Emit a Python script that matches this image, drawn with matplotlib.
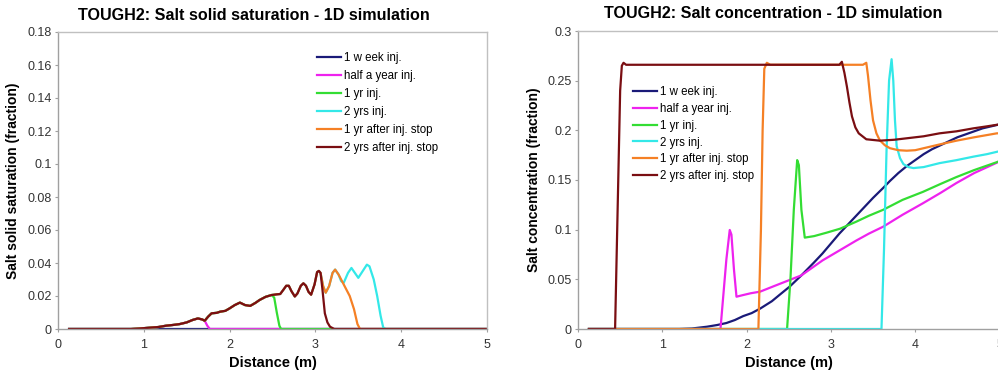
import matplotlib
matplotlib.use("Agg")
import matplotlib.pyplot as plt

plt.rcParams['font.family'] = ['Liberation Sans', 'DejaVu Sans']

# ---------------- data ----------------
labels = ["1 w eek inj.", "half a year inj.", "1 yr inj.", "2 yrs inj.",
          "1 yr after inj. stop", "2 yrs after inj. stop"]
colors = ["#1a1a78", "#ee22ee", "#33dd33", "#33e8e8", "#f58025", "#7a0e12"]

# Left chart: salt solid saturation; common precipitation hump
hump_x = [0.13, 0.85, 0.95, 1.07, 1.17, 1.26, 1.35, 1.42, 1.50, 1.57, 1.63, 1.68,
          1.71, 1.75, 1.79, 1.85, 1.89, 1.95, 2.00, 2.06, 2.12, 2.18, 2.24, 2.30,
          2.35, 2.42, 2.49, 2.55, 2.59, 2.63, 2.66, 2.69, 2.72, 2.76, 2.79, 2.83,
          2.86, 2.89, 2.92, 2.95, 2.99, 3.02, 3.04, 3.06]
hump_y = [0.0, 0.0, 0.0003, 0.0008, 0.0012, 0.0020, 0.0025, 0.0030, 0.0040, 0.0055,
          0.0064, 0.0058, 0.0050, 0.0075, 0.0095, 0.0098, 0.0105, 0.0110, 0.0125,
          0.0145, 0.0160, 0.0145, 0.0140, 0.0158, 0.0176, 0.0195, 0.0206, 0.0210,
          0.0212, 0.0240, 0.0262, 0.0262, 0.0230, 0.0197, 0.0215, 0.0262, 0.0277,
          0.0262, 0.0225, 0.0208, 0.0270, 0.0345, 0.0352, 0.0340]

sat_week_x = [0.13, 1.0, 1.75, 5.0]
sat_week_y = [0.0, 0.0, 0.0, 0.0]
sat_half_x = hump_x[:12] + [1.71, 1.74, 1.77, 5.0]
sat_half_y = hump_y[:12] + [0.005, 0.002, 0.0, 0.0]
sat_1yr_x = hump_x[:27] + [2.52, 2.55, 2.58, 2.60, 5.0]
sat_1yr_y = hump_y[:27] + [0.019, 0.010, 0.002, 0.0, 0.0]
sat_2yr_x = hump_x + [3.09, 3.12, 3.16, 3.20, 3.23, 3.27, 3.30, 3.33, 3.38, 3.42,
                      3.46, 3.50, 3.55, 3.60, 3.63, 3.68, 3.72, 3.76, 3.79, 3.82, 5.0]
sat_2yr_y = hump_y + [0.026, 0.022, 0.026, 0.034, 0.036, 0.033, 0.029, 0.028, 0.034,
                      0.037, 0.034, 0.031, 0.035, 0.039, 0.038, 0.030, 0.020, 0.008,
                      0.001, 0.0, 0.0]
sat_1after_x = hump_x + [3.09, 3.12, 3.16, 3.20, 3.23, 3.27, 3.33, 3.40, 3.45, 3.49,
                         3.52, 5.0]
sat_1after_y = hump_y + [0.026, 0.022, 0.026, 0.034, 0.036, 0.033, 0.027, 0.020,
                         0.012, 0.003, 0.0, 0.0]
sat_2after_x = hump_x + [3.08, 3.11, 3.14, 3.17, 3.22, 5.0]
sat_2after_y = hump_y + [0.025, 0.0095, 0.004, 0.0014, 0.0, 0.0]

# Right chart: salt concentration
con_week_x = [0.13, 1.20, 1.35, 1.53, 1.65, 1.76, 1.86, 1.96, 2.06, 2.16, 2.30, 2.40,
              2.51, 2.65, 2.80, 2.90, 3.00, 3.10, 3.20, 3.30, 3.40, 3.50, 3.62, 3.70,
              3.80, 3.90, 4.00, 4.10, 4.20, 4.30, 4.40, 4.50, 4.60, 4.70, 4.80, 4.90, 5.0]
con_week_y = [0.0, 0.0, 0.0005, 0.0023, 0.004, 0.006, 0.009, 0.013, 0.016, 0.0205,
              0.028, 0.035, 0.0426, 0.054, 0.067, 0.076, 0.086, 0.096, 0.105, 0.114,
              0.123, 0.132, 0.142, 0.149, 0.157, 0.164, 0.170, 0.176, 0.181, 0.185,
              0.189, 0.193, 0.196, 0.199, 0.202, 0.204, 0.206]
con_half_x = [0.13, 1.69, 1.72, 1.76, 1.80, 1.82, 1.85, 1.88, 1.95, 2.05, 2.16, 2.32,
              2.50, 2.65, 2.90, 3.11, 3.30, 3.45, 3.62, 3.85, 4.09, 4.30, 4.49, 4.70,
              4.97, 5.0]
con_half_y = [0.0, 0.0, 0.03, 0.07, 0.0997, 0.095, 0.06, 0.0325, 0.034, 0.036, 0.0376,
              0.043, 0.049, 0.054, 0.069, 0.0795, 0.089, 0.096, 0.103, 0.115, 0.1265,
              0.137, 0.147, 0.157, 0.1675, 0.169]
con_1yr_x = [0.13, 2.48, 2.52, 2.56, 2.60, 2.62, 2.65, 2.69, 2.80, 2.95, 3.11, 3.30,
             3.45, 3.62, 3.85, 4.09, 4.30, 4.49, 4.70, 4.97, 5.0]
con_1yr_y = [0.0, 0.0, 0.05, 0.12, 0.170, 0.165, 0.12, 0.092, 0.0935, 0.097, 0.101,
             0.108, 0.114, 0.120, 0.130, 0.138, 0.146, 0.153, 0.160, 0.168, 0.169]
con_2yr_x = [0.13, 3.60, 3.63, 3.66, 3.69, 3.72, 3.74, 3.76, 3.78, 3.82, 3.86, 3.92,
             3.98, 4.10, 4.29, 4.49, 4.69, 4.85, 5.0]
con_2yr_y = [0.0, 0.0, 0.08, 0.18, 0.25, 0.2716, 0.25, 0.21, 0.184, 0.172, 0.166,
             0.163, 0.162, 0.163, 0.167, 0.170, 0.1735, 0.176, 0.179]
con_1after_x = [0.13, 2.14, 2.17, 2.19, 2.21, 2.24, 2.28, 3.38, 3.42, 3.44, 3.47, 3.50,
                3.54, 3.58, 3.64, 3.70, 3.80, 3.90, 4.00, 4.10, 4.30, 4.49, 4.70, 4.97, 5.0]
con_1after_y = [0.0, 0.0, 0.10, 0.20, 0.262, 0.268, 0.266, 0.266, 0.268, 0.255, 0.23,
                0.21, 0.197, 0.19, 0.185, 0.182, 0.180, 0.1795, 0.180, 0.182, 0.186,
                0.1896, 0.193, 0.197, 0.197]
con_2after_x = [0.13, 0.44, 0.47, 0.50, 0.52, 0.54, 0.57, 3.10, 3.13, 3.16, 3.19, 3.22,
                3.25, 3.29, 3.33, 3.42, 3.58, 3.75, 3.90, 4.10, 4.29, 4.49, 4.69, 4.85, 5.0]
con_2after_y = [0.0, 0.0, 0.12, 0.24, 0.265, 0.268, 0.266, 0.266, 0.269, 0.258, 0.244,
                0.228, 0.214, 0.203, 0.197, 0.191, 0.1896, 0.1905, 0.192, 0.194, 0.197,
                0.199, 0.202, 0.204, 0.206]

sat_series = [(sat_week_x, sat_week_y), (sat_half_x, sat_half_y), (sat_1yr_x, sat_1yr_y),
              (sat_2yr_x, sat_2yr_y), (sat_1after_x, sat_1after_y), (sat_2after_x, sat_2after_y)]
con_series = [(con_week_x, con_week_y), (con_half_x, con_half_y), (con_1yr_x, con_1yr_y),
              (con_2yr_x, con_2yr_y), (con_1after_x, con_1after_y), (con_2after_x, con_2after_y)]

sat_yticks = [0, 0.02, 0.04, 0.06, 0.08, 0.1, 0.12, 0.14, 0.16, 0.18]
sat_yticklabels = ["0", "0.02", "0.04", "0.06", "0.08", "0.1", "0.12", "0.14", "0.16", "0.18"]
con_yticks = [0, 0.05, 0.1, 0.15, 0.2, 0.25, 0.3]
con_yticklabels = ["0", "0.05", "0.1", "0.15", "0.2", "0.25", "0.3"]
xticks = [0, 1, 2, 3, 4, 5]
xticklabels = ["0", "1", "2", "3", "4", "5"]

# ---------------- figure ----------------
W, H = 998, 376
fig = plt.figure(figsize=(W / 100, H / 100), dpi=100)

def px_axes(x0, y0, x1, y1):
    return fig.add_axes([x0 / W, 1 - y1 / H, (x1 - x0) / W, (y1 - y0) / H])

axL = px_axes(58, 32, 487, 329)
axR = px_axes(578, 31, 999.5, 329)

def style(ax, yticks, yticklabels, ymax, ylabel):
    ax.set_xlim(0, 5)
    ax.set_ylim(0, ymax)
    ax.set_xticks(xticks)
    ax.set_xticklabels(xticklabels)
    ax.set_yticks(yticks)
    ax.set_yticklabels(yticklabels)
    for s in ax.spines.values():
        s.set_color("#c0c0c0")
        s.set_linewidth(1.0)
    ax.spines["left"].set_color("#a0a0a0")
    ax.spines["bottom"].set_color("#a0a0a0")
    ax.tick_params(axis="both", direction="out", length=2.5, width=0.8, color="#a0a0a0",
                   labelsize=9, labelcolor="#333333")
    ax.tick_params(axis="y", pad=2)
    ax.tick_params(axis="x", pad=5)
    ax.set_xlabel("Distance (m)", fontsize=10.5, fontweight="bold", labelpad=3)
    ax.set_ylabel(ylabel, fontsize=10, fontweight="bold", labelpad=5)

for (xs, ys), c, lab in zip(sat_series, colors, labels):
    axL.plot(xs, ys, color=c, lw=1.6, label=lab, solid_joinstyle="round")
for (xs, ys), c, lab in zip(con_series, colors, labels):
    axR.plot(xs, ys, color=c, lw=1.6, label=lab, solid_joinstyle="round")

style(axL, sat_yticks, sat_yticklabels, 0.18, "Salt solid saturation (fraction)")
style(axR, con_yticks, con_yticklabels, 0.3, "Salt concentration (fraction)")

fig.text(254 / W, 1 - 15 / H, "TOUGH2: Salt solid saturation - 1D simulation",
         ha="center", va="center", fontsize=11.6, fontweight="bold")
fig.text(773 / W, 1 - 14 / H, "TOUGH2: Salt concentration - 1D simulation",
         ha="center", va="center", fontsize=11.6, fontweight="bold")

legkw = dict(loc="upper left", frameon=False, fontsize=8.3, borderpad=0,
             borderaxespad=0, handlelength=2.1, handletextpad=0.25,
             labelspacing=0.52, bbox_transform=fig.transFigure)
axL.legend(bbox_to_anchor=(317 / W, 1 - 52 / H), **legkw)
legkw["labelspacing"] = 0.42
axR.legend(bbox_to_anchor=(633 / W, 1 - 86 / H), **legkw)

fig.savefig("out.png", dpi=100)
